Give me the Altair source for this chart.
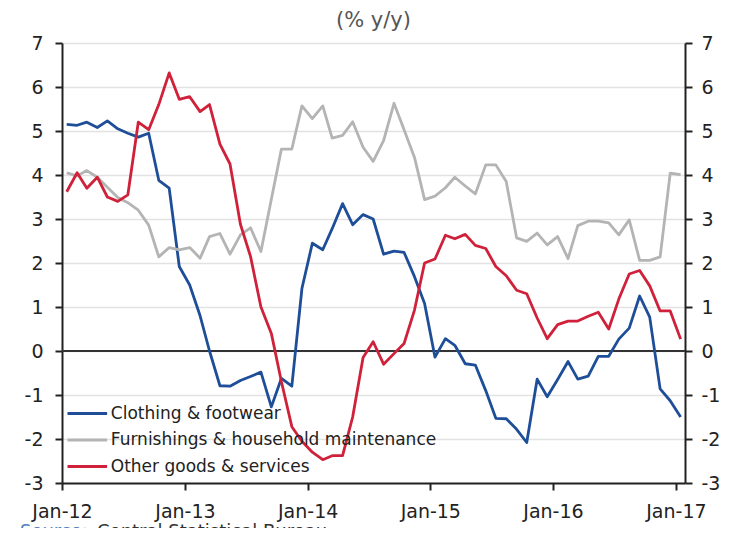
import altair as alt
import pandas as pd

series_names = ["Clothing & footwear", "Furnishings & household maintenance", "Other goods & services"]
colors = ["#1f4e98", "#b4b4b4", "#d0213a"]

# monthly observations Jan-12 .. Jan-17 (61 points)
dates = [f"{2012 + i // 12}-{i % 12 + 1:02d}-15T00:00:00" for i in range(61)]

clothing = [5.15, 5.13, 5.2, 5.08, 5.23, 5.05, 4.95, 4.86, 4.95, 3.88,
            3.7, 1.92, 1.5, 0.8, 0.0, -0.79, -0.8, -0.67, -0.58, -0.48,
            -1.27, -0.62, -0.8, 1.42, 2.45, 2.3, 2.78, 3.35, 2.87, 3.1,
            3.0, 2.2, 2.27, 2.24, 1.69, 1.08, -0.14, 0.28, 0.13, -0.29,
            -0.32, -0.9, -1.53, -1.54, -1.78, -2.08, -0.64, -1.04, -0.65, -0.24,
            -0.64, -0.57, -0.12, -0.12, 0.27, 0.52, 1.25, 0.77, -0.86, -1.13,
            -1.5]

furnishings = [4.05, 3.98, 4.1, 3.95, 3.72, 3.49, 3.37, 3.2, 2.86, 2.14,
               2.35, 2.3, 2.35, 2.11, 2.6, 2.67, 2.2, 2.64, 2.8, 2.26,
               3.45, 4.59, 4.59, 5.57, 5.28, 5.57, 4.84, 4.9, 5.21, 4.63,
               4.31, 4.78, 5.63, 5.03, 4.4, 3.44, 3.52, 3.71, 3.95, 3.75,
               3.57, 4.23, 4.23, 3.85, 2.57, 2.49, 2.68, 2.41, 2.6, 2.1,
               2.85, 2.95, 2.95, 2.91, 2.64, 2.98, 2.06, 2.06, 2.14, 4.04,
               4.01]

other = [3.62, 4.05, 3.7, 3.95, 3.5, 3.4, 3.55, 5.2, 5.03, 5.6,
         6.32, 5.72, 5.78, 5.44, 5.6, 4.7, 4.25, 2.88, 2.15, 1.0,
         0.4, -0.7, -1.72, -2.05, -2.3, -2.47, -2.38, -2.38, -1.5, -0.15,
         0.21, -0.3, -0.06, 0.17, 0.93, 2.0, 2.09, 2.63, 2.55, 2.65,
         2.4, 2.33, 1.92, 1.71, 1.38, 1.3, 0.75, 0.28, 0.6, 0.68,
         0.68, 0.79, 0.88, 0.5, 1.18, 1.75, 1.83, 1.48, 0.91, 0.91,
         0.27]

y_ticks = [-3, -2, -1, 0, 1, 2, 3, 4, 5, 6, 7]
x_tick_years = [2012, 2013, 2014, 2015, 2016, 2017]

rows = []
for name, vals in zip(series_names, [clothing, furnishings, other]):
    for d, v in zip(dates, vals):
        rows.append({"date": d, "value": v, "series": name})
df = pd.DataFrame(rows)

FONT = "DejaVu Sans"
yscale = alt.Scale(domain=[-3, 7], nice=False)
xscale = alt.Scale(domain=[alt.DateTime(year=2012, month=1, date=1),
                           alt.DateTime(year=2017, month=1, date=28)])

hyphen = "'' + datum.value"

left_axis = alt.Axis(orient="left", values=y_ticks, title=None, grid=True,
                     gridColor="#e2e2e2", gridWidth=1.5, labelExpr=hyphen,
                     domainColor="#222", domainWidth=2, tickColor="#222",
                     tickWidth=2, tickSize=7, labelPadding=12,
                     labelFont=FONT, labelFontSize=19, labelColor="#222")
right_axis = alt.Axis(orient="right", values=y_ticks, title=None, grid=False,
                      labelExpr=hyphen,
                      domainColor="#222", domainWidth=2, tickColor="#222",
                      tickWidth=2, tickSize=7, labelPadding=9,
                      labelFont=FONT, labelFontSize=19, labelColor="#222")
x_axis = alt.Axis(values=[alt.DateTime(year=y, month=1, date=1) for y in x_tick_years],
                  format="%b-%y", title=None, grid=False, labelFlush=False,
                  domainColor="#222", domainWidth=2, tickColor="#222",
                  tickWidth=2, tickSize=7, labelPadding=12,
                  labelFont=FONT, labelFontSize=19, labelColor="#222")

zero = alt.Chart(pd.DataFrame({"v": [0]})).mark_rule(color="#333", strokeWidth=2).encode(
    y=alt.Y("v:Q", scale=yscale, axis=right_axis)
)

lines = alt.Chart(df).mark_line(strokeWidth=2.8, strokeJoin="round").encode(
    x=alt.X("date:T", scale=xscale, axis=x_axis),
    y=alt.Y("value:Q", scale=yscale, axis=left_axis),
    color=alt.Color("series:N", sort=series_names,
                    scale=alt.Scale(domain=series_names, range=colors),
                    legend=alt.Legend(orient="none", legendX=12.8, legendY=358,
                                      title=None, symbolType="M-1.8,0H1.8",
                                      symbolSize=484, symbolStrokeWidth=3,
                                      labelFont=FONT, labelFontSize=17,
                                      labelColor="#222", labelOffset=11,
                                      labelLimit=0,
                                      rowPadding=5.5, padding=0,
                                      direction="vertical")),
    order=alt.Order("date:T"),
)

src1 = alt.Chart(pd.DataFrame({"t": ["Source:"]})).mark_text(
    align="left", baseline="alphabetic", font=FONT, fontSize=18, color="#4f7fc0"
).encode(text="t:N", x=alt.value(-42), y=alt.value(494))
src2 = alt.Chart(pd.DataFrame({"t": ["Central Statistical Bureau"]})).mark_text(
    align="left", baseline="alphabetic", font=FONT, fontSize=18, color="#333"
).encode(text="t:N", x=alt.value(35), y=alt.value(494))

chart = alt.layer(zero, lines, src1, src2).resolve_axis(y="independent").properties(
    width=623, height=440,
    title=alt.TitleParams("(% y/y)", font=FONT, fontSize=21, fontWeight="normal",
                          color="#555", anchor="middle", offset=3),
    autosize=alt.AutoSizeParams(type="none"),
    padding={"left": 54, "top": 35, "right": 36, "bottom": 45},
).configure_view(stroke=None)

chart.save("out.html", embed_options={"renderer": "svg", "actions": False})
